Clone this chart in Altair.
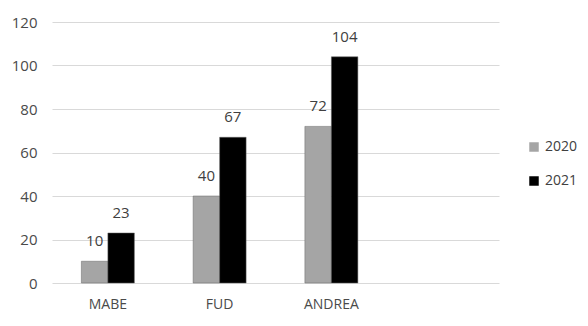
import altair as alt
import pandas as pd

categories = ["MABE", "FUD", "ANDREA"]
years = ["2020", "2021"]
values_2020 = [10, 40, 72]
values_2021 = [23, 67, 104]

rows = []
for c, a, b in zip(categories, values_2020, values_2021):
    rows.append({"cat": c, "year": "2020", "value": a})
    rows.append({"cat": c, "year": "2021", "value": b})
df = pd.DataFrame(rows)

domain = categories + [" "]
font = "Open Sans"
xscale = alt.Scale(domain=domain, paddingInner=0.526, paddingOuter=0.263)

x = alt.X("cat:N", scale=xscale,
          axis=alt.Axis(title=None, labelAngle=0, labelFontSize=14, labelColor="#4a4a4a",
                        labelFont=font, ticks=False, domain=False, grid=False,
                        gridColor="white", tickColor="white", domainColor="white",
                        labelPadding=14))
y = alt.Y("value:Q", scale=alt.Scale(domain=[0, 120]),
          axis=alt.Axis(title=None, values=[0, 20, 40, 60, 80, 100, 120], ticks=False, domain=False,
                        domainColor="white", tickColor="white",
                        gridColor="#d9d9d9", labelFontSize=15, labelColor="#4a4a4a",
                        labelFont=font, labelPadding=15))
xo = alt.XOffset("year:N", scale=alt.Scale(domain=years, paddingInner=0, paddingOuter=0))
color = alt.Color("year:N", scale=alt.Scale(domain=years, range=["#a5a5a5", "#000000"]),
                  legend=alt.Legend(title=None, orient="none", legendX=475, legendY=118,
                                    symbolType="square", symbolSize=90, symbolStrokeWidth=0,
                                    labelFontSize=14, labelColor="#404040", labelFont=font,
                                    rowPadding=20, padding=0, labelOffset=4))

base = alt.Chart(df).encode(x=x, xOffset=xo, y=y)
bars = base.mark_bar(stroke="#666666", strokeWidth=0.5).encode(color=color)
labels = base.mark_text(baseline="bottom", dy=-12, fontSize=15, color="#404040", font=font).encode(
    text="value:Q")

chart = alt.layer(bars, labels).properties(
    width=447, height=261,
    background="white",
    autosize=alt.AutoSizeParams(type="none"),
    padding={"left": 44, "top": 14, "right": 81, "bottom": 35},
).configure_view(stroke="white", strokeWidth=0)

chart.save("out.html", embed_options={"renderer": "svg", "actions": False})
